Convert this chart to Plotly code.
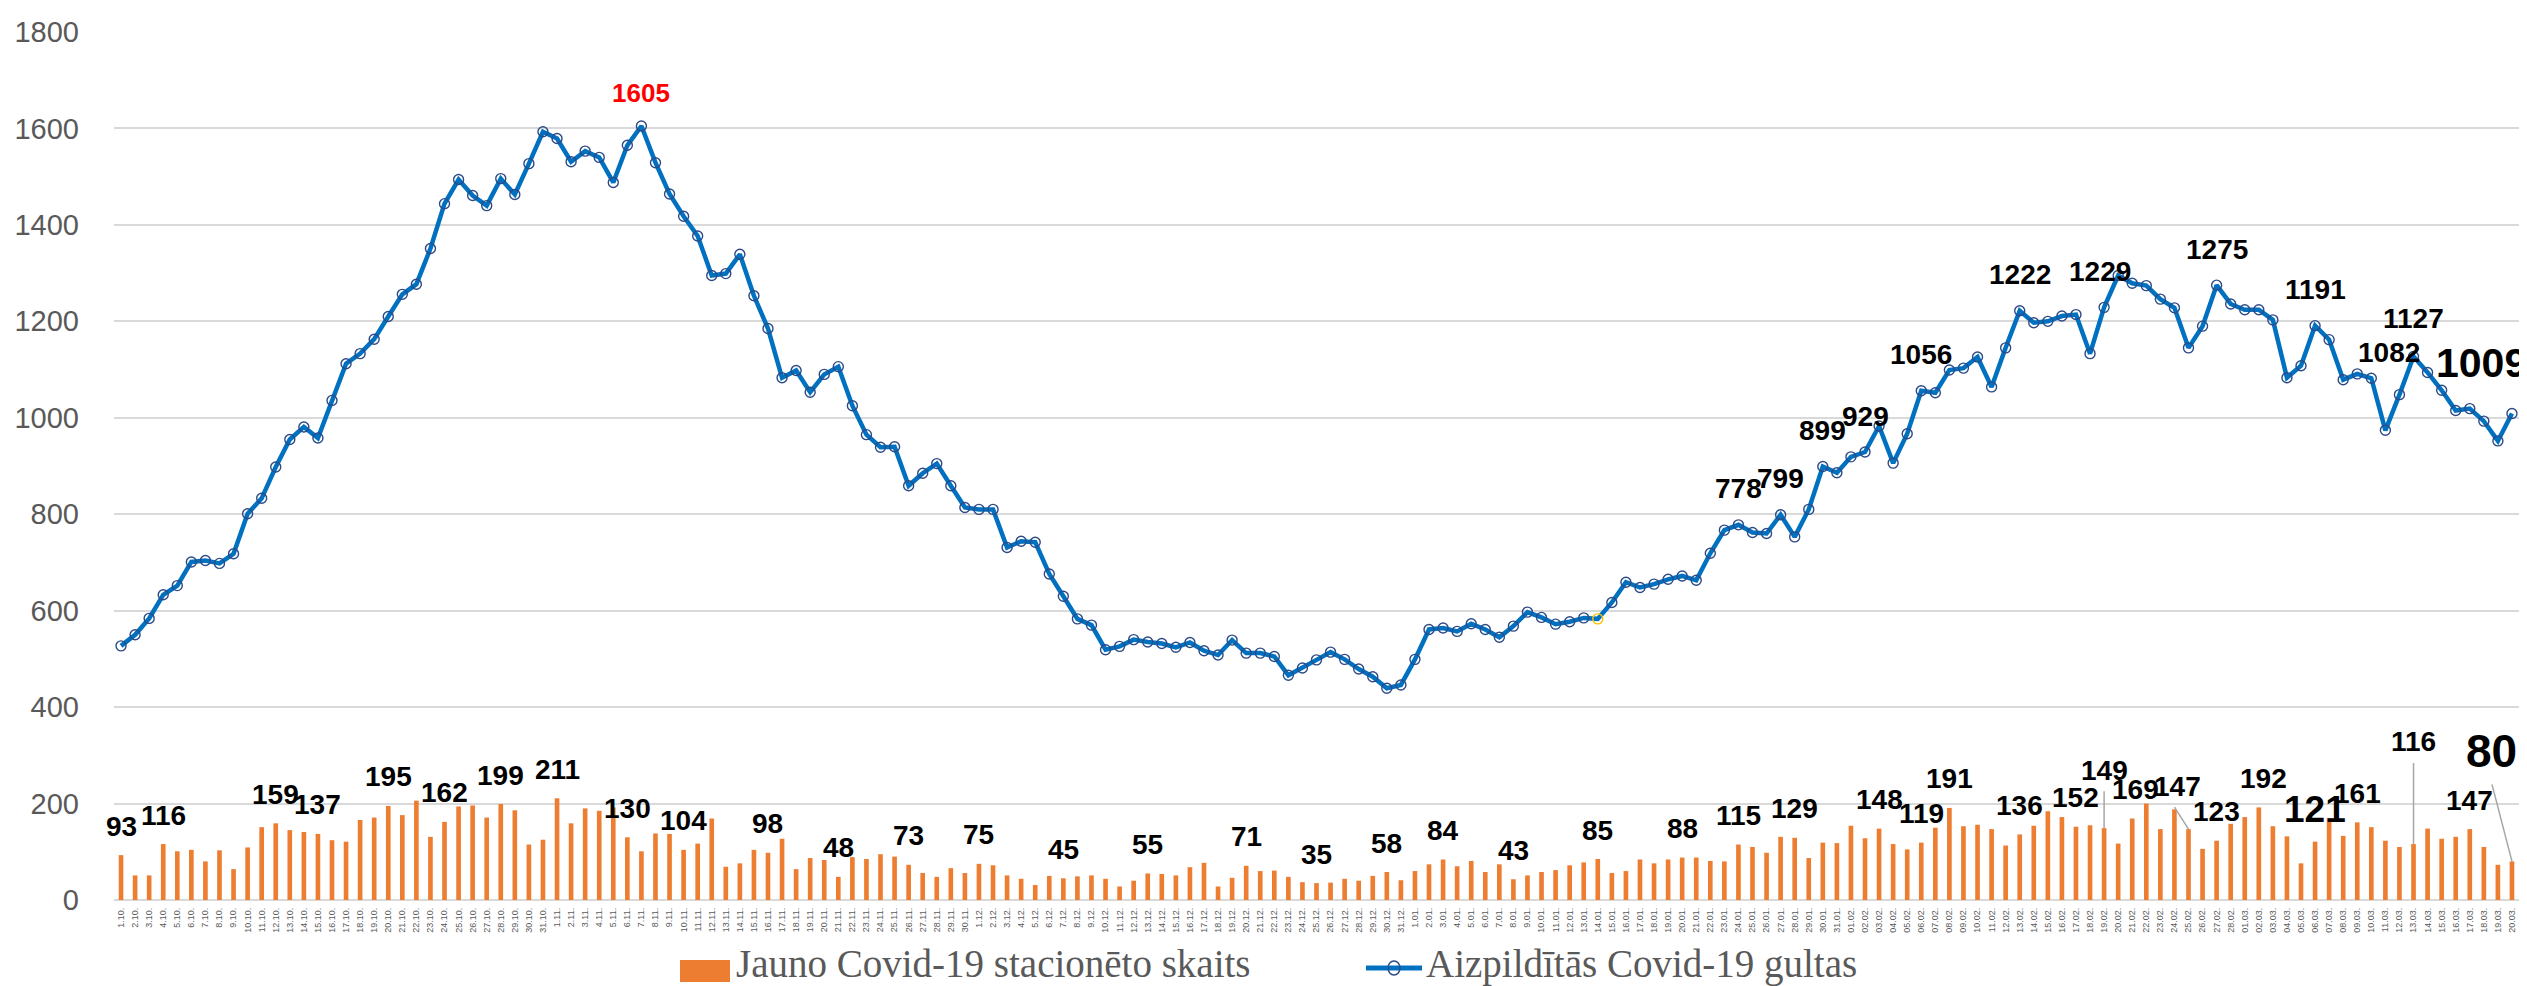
import plotly.graph_objects as go

# x categories: one per day, 1 Oct .. 20 Mar
dates = ([f"{d}.10." for d in range(1, 32)] + [f"{d}.11." for d in range(1, 31)]
         + [f"{d}.12." for d in range(1, 32)] + [f"{d}.01." for d in range(1, 32)]
         + [f"{d:02d}.02." for d in range(1, 29)] + [f"{d:02d}.03." for d in range(1, 21)])

# occupied Covid-19 beds
beds = [
    527, 550, 584, 633, 652, 701, 704, 698, 718, 801, 833, 898, 955, 981, 958, 1036,
    1112, 1133, 1163, 1210, 1256, 1277, 1351, 1444, 1494, 1461, 1440, 1496, 1463, 1527,
    1593, 1579, 1531, 1553, 1540, 1488, 1565, 1605, 1529, 1464, 1418, 1377, 1295, 1299,
    1339, 1253, 1185, 1083, 1098, 1053, 1090, 1106, 1025, 965, 939, 940, 859,
    885, 905, 859, 814, 810, 810, 731, 744, 742, 676, 630, 583, 570, 519, 526, 540, 535,
    532, 524, 534, 517, 508, 539, 512, 512, 505, 466, 481, 498, 514, 499, 479, 463, 439,
    446, 499, 561, 564, 557, 573, 561, 545, 568, 597,
    586, 572, 577, 585, 583, 617, 659, 648, 655, 665, 672, 663, 719, 767, 778, 762, 760,
    799, 753, 810, 899, 886, 919, 929, 983, 906, 967, 1056, 1052, 1099, 1103, 1126, 1064,
    1145, 1222, 1197, 1200, 1211, 1214, 1133,
    1229, 1295, 1279, 1274, 1246, 1228, 1145, 1190, 1275, 1236, 1224, 1224, 1203, 1083,
    1108, 1191, 1162, 1079, 1091, 1082, 974, 1048, 1127, 1094, 1057, 1015, 1019, 993, 952,
    1009,
]

# new Covid-19 hospitalisations per day
new_patients = [
    93, 51, 51, 116, 101, 104, 80, 103, 64, 109, 151, 159, 145, 141, 137, 124, 121, 166,
    171, 195, 176, 206, 131, 162, 194, 196, 171, 199, 186, 115, 125, 211, 159, 190, 185,
    192, 130, 101, 138, 137, 104, 117, 169, 69, 76, 104, 98, 127, 64, 87, 83, 48, 89, 85,
    95, 90, 73,
    56, 48, 66, 56, 75, 72, 51, 44, 31, 50, 45, 49, 51, 44, 28, 40, 55, 54, 51, 68, 77,
    28, 46, 71, 60, 61, 48, 37, 35, 36, 44, 40, 50, 58, 41, 60, 74, 84, 70, 81, 58, 74,
    43, 51, 58, 62, 72, 78, 85, 56, 60, 84, 76, 84, 88, 88,
    81, 80, 115, 110, 98, 131, 129, 87, 119, 118, 154, 128, 148, 116, 105, 119, 150, 191,
    153, 156, 147, 113, 136, 154, 184, 172, 152, 155, 149, 117, 169, 200, 147, 188, 147,
    106, 123, 158, 172, 192, 153, 132, 76, 121, 170, 133, 161, 151, 123, 110, 116, 148,
    127, 131, 147, 110, 73, 80,
]

# positions (0-based) that carry a printed value
bed_labels = [37, 115, 118, 121, 124, 128, 135, 141, 149, 156, 160, 163, 170]
bar_labels = [0, 3, 11, 14, 19, 23, 27, 31, 36, 40, 46, 51, 56, 61, 67, 73, 80, 85, 90,
              94, 99, 105, 111, 115, 119, 125, 128, 130, 135, 139, 141, 143, 147, 149,
              152, 156, 159, 163, 167, 170]

W, H = 2527, 986
L, R, T, B = 106, 16, 24, 94
LABEL_FONT = "Liberation Sans, Arial, sans-serif"
GREY = "#595959"

x = list(range(len(dates)))

marker_edge = ["#2E4A85"] * len(beds)
marker_edge[105] = "#FFC000"

fig = go.Figure()
fig.add_trace(go.Bar(
    x=x, y=new_patients, width=0.33, marker=dict(color="#ED7D31", line=dict(width=0)),
    name="Jauno Covid-19 stacionēto skaits",
))
fig.add_trace(go.Scatter(
    x=x, y=beds, mode="lines+markers",
    line=dict(color="#0070C0", width=4.5),
    marker=dict(symbol="circle", size=10, color="rgba(0,0,0,0)",
                line=dict(color=marker_edge, width=1.4)),
    name="Aizpildītās Covid-19 gultas",
))

annotations = []
shapes = []

bar_style = {141: dict(dy=58), 143: dict(dx=3), 147: dict(dx=-11, dy=43),
             152: dict(dx=5), 156: dict(size=37, dy=32), 163: dict(dy=103),
             170: dict(dx=-20, dy=110, size=46)}
for i in bar_labels:
    s = dict(dx=0, dy=29, size=28, color="#000000")
    s.update(bar_style.get(i, {}))
    annotations.append(dict(
        x=i, y=new_patients[i], xref="x", yref="y", text=str(new_patients[i]),
        showarrow=False, xanchor="center", yanchor="middle",
        xshift=s["dx"], yshift=s["dy"],
        font=dict(family=LABEL_FONT, size=s["size"], color=s["color"], weight="bold"),
    ))

line_style = {37: dict(size=26, dy=33, color="#FF0000"), 141: dict(dx=-4),
              160: dict(dx=18, dy=26), 163: dict(dy=38),
              170: dict(dx=-30, dy=50, size=41)}
for i in bed_labels:
    s = dict(dx=0, dy=36, size=28, color="#000000")
    s.update(line_style.get(i, {}))
    annotations.append(dict(
        x=i, y=beds[i], xref="x", yref="y", text=str(beds[i]),
        showarrow=False, xanchor="center", yanchor="middle",
        xshift=s["dx"], yshift=s["dy"],
        font=dict(family=LABEL_FONT, size=s["size"], color=s["color"], weight="bold"),
    ))

# leader lines from moved labels back to their bars
leaders = {141: (0, 37), 147: (-14, 22), 163: (0, 81), 170: (-20, 77)}
for i, (dx, dy) in leaders.items():
    shapes.append(dict(
        type="line", xref="x", yref="y", xsizemode="pixel", ysizemode="pixel",
        xanchor=i, yanchor=new_patients[i], x0=0, y0=0, x1=dx, y1=dy,
        line=dict(color="#A6A6A6", width=1.5),
    ))

# legend drawn by hand so the swatches match the large legend text
pw, ph = W - L - R, H - T - B
px = lambda v: (v - L) / pw
py = lambda v: (H - B - v) / ph
leg_y = py(960)
shapes.append(dict(type="rect", xref="paper", yref="paper", x0=px(672), x1=px(722),
                   y0=py(974), y1=py(952), fillcolor="#ED7D31", line=dict(width=0)))
shapes.append(dict(type="line", xref="paper", yref="paper", x0=px(1358), x1=px(1414),
                   y0=leg_y, y1=leg_y, line=dict(color="#0070C0", width=5)))
shapes.append(dict(type="circle", xref="paper", yref="paper", xsizemode="pixel",
                   ysizemode="pixel", xanchor=px(1386), yanchor=leg_y,
                   x0=-6, x1=6, y0=-7, y1=7, fillcolor="rgba(0,0,0,0)",
                   line=dict(color="#2E4A85", width=1.4)))
for left, text in [(726, "Jauno Covid-19 stacionēto skaits"),
                   (1416, "Aizpildītās Covid-19 gultas")]:
    annotations.append(dict(
        x=px(left), y=py(956), xref="paper", yref="paper", text=text, showarrow=False,
        xanchor="left", yanchor="middle",
        font=dict(family="Liberation Serif, Times New Roman, serif", size=39, color=GREY),
    ))

fig.update_layout(
    width=W, height=H, margin=dict(l=L, r=R, t=T, b=B),
    paper_bgcolor="white", plot_bgcolor="white", showlegend=False,
    annotations=annotations, shapes=shapes,
    xaxis=dict(
        range=[-0.5, len(dates) - 0.5], tickmode="array", tickvals=x, ticktext=dates,
        tickangle=-90, tickfont=dict(family=LABEL_FONT, size=9, color=GREY),
        showgrid=False, zeroline=False, showline=False, ticks="", automargin=False,
        ticklabelstandoff=5,
    ),
    yaxis=dict(
        range=[0, 1800], dtick=200, tickfont=dict(family=LABEL_FONT, size=29, color=GREY),
        showgrid=True, gridcolor="#D9D9D9", gridwidth=1.5,
        zeroline=True, zerolinecolor="#D9D9D9", zerolinewidth=1.5,
        showline=False, ticks="", automargin=False, ticklabelstandoff=34,
    ),
)

fig.write_html("out.html")
